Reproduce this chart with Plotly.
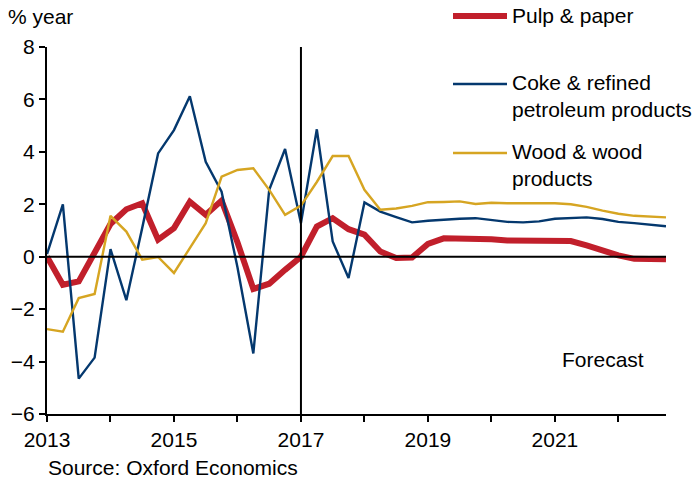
import plotly.graph_objects as go

# Quarterly data, 2013Q1 .. 2022Q4
start_year = 2013
n_quarters = 40
quarters = [start_year + i * 0.25 for i in range(n_quarters)]

pulp_paper = [0, -1.07, -0.94, 0.14, 1.25, 1.81, 2.04, 0.65, 1.09, 2.10,
              1.60, 2.14, 0.55, -1.23, -1.03, -0.50, 0.00, 1.15, 1.47, 1.05,
              0.84, 0.20, -0.05, -0.03, 0.49, 0.70, 0.70, 0.68, 0.67, 0.62,
              0.61, 0.60, 0.58, 0.60, 0.43, 0.24, 0.05, -0.08, -0.10, -0.10]

coke_petroleum = [0.10, 2.00, -4.65, -3.85, 0.29, -1.66, 1.10, 3.94, 4.83, 6.12,
                  3.62, 2.48, -0.40, -3.69, 2.55, 4.11, 1.28, 4.86, 0.58, -0.81,
                  2.07, 1.72, 1.51, 1.31, 1.37, 1.42, 1.45, 1.47, 1.40, 1.33,
                  1.31, 1.35, 1.45, 1.47, 1.50, 1.44, 1.33, 1.28, 1.23, 1.16]

wood_products = [-2.76, -2.86, -1.58, -1.42, 1.56, 0.96, -0.11, -0.01, -0.62, 0.35,
                 1.28, 3.05, 3.31, 3.37, 2.55, 1.60, 1.95, 2.85, 3.84, 3.84,
                 2.55, 1.79, 1.84, 1.94, 2.08, 2.09, 2.11, 2.01, 2.06, 2.04,
                 2.04, 2.04, 2.04, 2.00, 1.90, 1.76, 1.64, 1.56, 1.52, 1.50]

year_ticks = list(range(2013, 2023))
year_labels = [str(y) if y % 2 == 1 else "" for y in year_ticks]
forecast_start = 2017

series_names = ["Pulp & paper", "Coke & refined<br>petroleum products", "Wood & wood<br>products"]

RED = "#C11F2B"
BLUE = "#04386E"
GOLD = "#D6A522"
FONT = "Liberation Sans, Arial, sans-serif"
FS = 21

W, H = 696, 487
ML, MR, MT, MB = 47, 30, 47, 73
PW, PH = W - ML - MR, H - MT - MB


def px(x_page):
    return (x_page - ML) / PW


def py(y_page):
    return (MT + PH - y_page) / PH


fig = go.Figure()
fig.add_trace(go.Scatter(x=quarters, y=pulp_paper, mode="lines",
                         line=dict(color=RED, width=6), showlegend=False))
fig.add_trace(go.Scatter(x=quarters, y=coke_petroleum, mode="lines",
                         line=dict(color=BLUE, width=2.4), showlegend=False))
fig.add_trace(go.Scatter(x=quarters, y=wood_products, mode="lines",
                         line=dict(color=GOLD, width=2.4), showlegend=False))

shapes = [
    dict(type="line", xref="paper", yref="y", x0=0, x1=1, y0=0, y1=0,
         line=dict(color="black", width=2), layer="above"),
    dict(type="line", xref="x", yref="paper", x0=forecast_start, x1=forecast_start, y0=0, y1=1,
         line=dict(color="black", width=2), layer="above"),
]

# manual legend
legend_items = [(RED, 6, 16, 16), (BLUE, 2.4, 84, 96), (GOLD, 2.4, 153, 165)]
annotations = []
for (color, width, ly, ty), name in zip(legend_items, series_names):
    shapes.append(dict(type="line", xref="paper", yref="paper",
                       x0=px(453), x1=px(507), y0=py(ly), y1=py(ly),
                       line=dict(color=color, width=width)))
    annotations.append(dict(xref="paper", yref="paper", x=px(510), y=py(ty),
                            xanchor="left", yanchor="middle", align="left",
                            text=name, showarrow=False,
                            font=dict(family=FONT, size=FS, color="black")))

annotations += [
    dict(xref="paper", yref="paper", x=px(6), y=py(17), xanchor="left", yanchor="middle",
         text="% year", showarrow=False, font=dict(family=FONT, size=FS, color="black")),
    dict(xref="paper", yref="paper", x=px(46), y=py(467), xanchor="left", yanchor="middle",
         text="Source: Oxford Economics", showarrow=False,
         font=dict(family=FONT, size=FS, color="black")),
    dict(xref="paper", yref="paper", x=px(603), y=py(359), xanchor="center", yanchor="middle",
         text="Forecast", showarrow=False, font=dict(family=FONT, size=FS, color="black")),
]

fig.update_layout(
    width=W, height=H,
    margin=dict(l=ML, r=MR, t=MT, b=MB, pad=0, autoexpand=False),
    paper_bgcolor="white", plot_bgcolor="white",
    font=dict(family=FONT, size=FS, color="black"),
    shapes=shapes, annotations=annotations,
    showlegend=False, hovermode=False,
)
fig.update_xaxes(range=[start_year, quarters[-1]], tickvals=year_ticks, ticktext=year_labels,
                 ticks="outside", ticklen=6, tickwidth=2, tickcolor="black", automargin=False,
                 showline=True, linewidth=2, linecolor="black", showgrid=False,
                 zeroline=False, tickfont=dict(family=FONT, size=FS, color="black"))
fig.update_yaxes(range=[-6, 8], dtick=2, tick0=-6, automargin=False,
                 ticks="outside", ticklen=6, tickwidth=2, tickcolor="black",
                 showline=True, linewidth=2, linecolor="black", showgrid=False,
                 zeroline=False, tickfont=dict(family=FONT, size=FS, color="black"))

fig.write_html("out.html", config={"displayModeBar": False},
               post_script="document.body.style.margin='0';document.body.style.overflow='hidden';")
